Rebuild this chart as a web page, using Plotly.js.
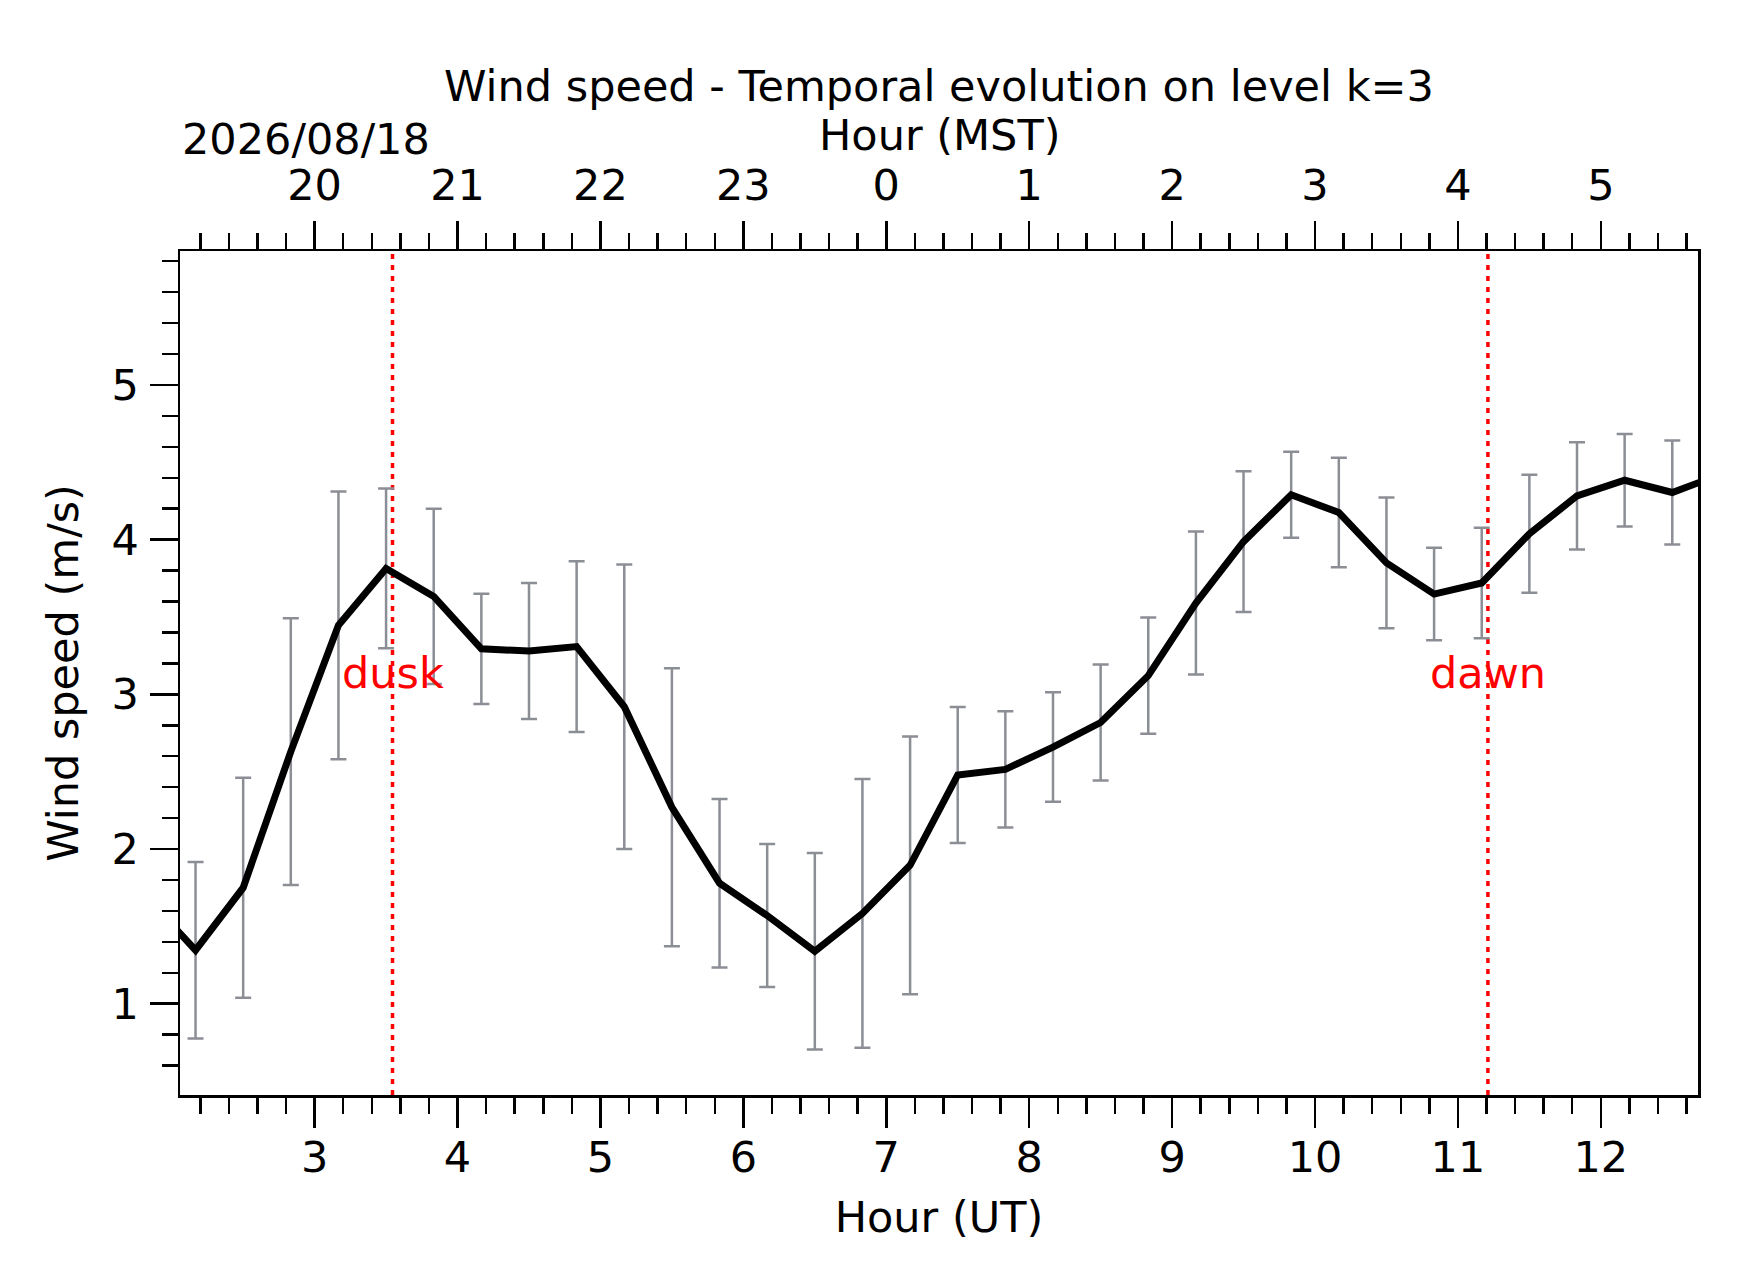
<!DOCTYPE html>
<html>
<head>
<meta charset="utf-8">
<script src="https://cdn.plot.ly/plotly-3.0.1.min.js"></script>
<style>
  html, body { margin: 0; padding: 0; background: #fff; }
  #chart { width: 1742px; height: 1282px; }
</style>
</head>
<body>
<div id="chart"></div>
<script>
// Temps UT (h) des échantillons, toutes les 20 min ; les deux extrêmes sortent de la fenêtre
const hoursUT = [1.8333, 2.1667, 2.5, 2.8333, 3.1667, 3.5, 3.8333, 4.1667, 4.5, 4.8333,
                 5.1667, 5.5, 5.8333, 6.1667, 6.5, 6.8333, 7.1667, 7.5, 7.8333, 8.1667,
                 8.5, 8.8333, 9.1667, 9.5, 9.8333, 10.1667, 10.5, 10.8333, 11.1667, 11.5,
                 11.8333, 12.1667, 12.5, 12.8333]
// vitesse moyenne (m/s) et écart-type
const meanSpeed = [1.68, 1.346, 1.750, 2.630, 3.446, 3.814, 3.633, 3.294, 3.280, 3.309,
                   2.920, 2.270, 1.779, 1.570, 1.339, 1.584, 1.895, 2.479, 2.515, 2.659,
                   2.818, 3.121, 3.590, 3.987, 4.290, 4.175, 3.850, 3.648, 3.720, 4.038,
                   4.283, 4.384, 4.305, 4.42]
const stdSpeed = [0.60, 0.570, 0.711, 0.862, 0.866, 0.516, 0.566, 0.357, 0.440, 0.552,
                  0.920, 0.898, 0.545, 0.462, 0.635, 0.869, 0.833, 0.440, 0.375, 0.354,
                  0.375, 0.375, 0.462, 0.455, 0.278, 0.354, 0.422, 0.299, 0.357, 0.382,
                  0.346, 0.299, 0.336, 0.33]

const utTicks = [3, 4, 5, 6, 7, 8, 9, 10, 11, 12]
const mstLabels = ["20", "21", "22", "23", "0", "1", "2", "3", "4", "5"]
const speedTicks = [1, 2, 3, 4, 5]

const duskHour = 3.545
const dawnHour = 11.21
const dayDate = "2026/08/18"

const FONT = "'DejaVu Sans', 'Liberation Sans', sans-serif"
const TXT = 43
const AXW = 2.5

// réglages communs aux trois axes (ticks extérieurs, mineurs tous les 0.2)
function axisStyle() {
  return {
    showgrid: false,
    zeroline: false,
    showline: true,
    linecolor: "#000",
    linewidth: AXW,
    ticks: "outside",
    ticklen: 29,
    tickwidth: AXW,
    tickcolor: "#000",
    tickfont: { family: FONT, size: TXT, color: "#000" },
    minor: { tick0: 0, dtick: 0.2, ticks: "outside", ticklen: 16, tickwidth: AXW, tickcolor: "#000" }
  }
}

const traces = [
  {
    x: hoursUT,
    y: meanSpeed,
    type: "scatter",
    mode: "lines",
    line: { color: "#000", width: 7 },
    error_y: {
      type: "data",
      array: stdSpeed,
      visible: true,
      color: "#8c8e96",
      thickness: 2.5,
      width: 8
    },
    showlegend: false,
    hoverinfo: "x+y"
  },
  // trace vide pour que l'axe du haut (MST) soit bien construit
  {
    x: utTicks,
    y: utTicks.map(() => null),
    xaxis: "x2",
    type: "scatter",
    mode: "lines",
    showlegend: false,
    hoverinfo: "skip"
  }
]

const xRange = [2.058, 12.68]

const layout = {
  width: 1742,
  height: 1282,
  paper_bgcolor: "#fff",
  plot_bgcolor: "#fff",
  font: { family: FONT, size: TXT, color: "#000" },
  margin: { l: 180, r: 44, t: 251, b: 187, pad: 0 },
  showlegend: false,
  title: {
    text: "Wind speed - Temporal evolution on level k=3",
    font: { family: FONT, size: TXT, color: "#000" },
    xref: "paper", x: 0.5, xanchor: "center",
    yref: "container", y: 1 - 86 / 1282, yanchor: "middle"
  },
  xaxis: {
    ...axisStyle(),
    range: xRange,
    tickmode: "array",
    tickvals: utTicks,
    ticktext: utTicks.map(String),
    ticklen: 30,
    ticklabelstandoff: -7,
    title: { text: "Hour (UT)", font: { family: FONT, size: TXT }, standoff: 21 }
  },
  xaxis2: {
    ...axisStyle(),
    overlaying: "x",
    side: "top",
    anchor: "y",
    range: xRange,
    tickmode: "array",
    tickvals: utTicks,
    ticktext: mstLabels,
    ticklen: 28,
    ticklabelstandoff: 3
  },
  yaxis: {
    ...axisStyle(),
    range: [0.41, 5.866],
    tickmode: "array",
    tickvals: speedTicks,
    ticktext: speedTicks.map(String),
    ticklen: 28,
    mirror: true,
    ticklabelstandoff: 2,
    title: { text: "Wind speed (m/s)", font: { family: FONT, size: TXT }, standoff: 20 }
  },
  shapes: [duskHour, dawnHour].map((h) => ({
    type: "line",
    xref: "x", x0: h, x1: h,
    yref: "paper", y0: 0, y1: 1,
    layer: "below",
    line: { color: "#ff0000", width: 3.5, dash: "5px,6px" }
  })),
  annotations: [
    {
      text: "dusk", x: duskHour, y: 3.14, xref: "x", yref: "y",
      showarrow: false, xanchor: "center", yanchor: "middle",
      font: { family: FONT, size: TXT, color: "#ff0000" }
    },
    {
      text: "dawn", x: dawnHour, y: 3.14, xref: "x", yref: "y",
      showarrow: false, xanchor: "center", yanchor: "middle",
      font: { family: FONT, size: TXT, color: "#ff0000" }
    },
    {
      text: dayDate, xref: "paper", x: 0, xanchor: "left",
      yref: "paper", y: 1 + (251 - 139) / 844, yanchor: "middle",
      showarrow: false,
      font: { family: FONT, size: TXT, color: "#000" }
    },
    // titre de l'axe du haut, placé à la main (le standoff ne descend pas assez)
    {
      text: "Hour (MST)", xref: "paper", x: 0.5, xanchor: "center",
      yref: "paper", y: 1 + (251 - 135) / 844, yanchor: "middle",
      showarrow: false,
      font: { family: FONT, size: TXT, color: "#000" }
    }
  ]
}

Plotly.newPlot("chart", traces, layout, { displayModeBar: false, staticPlot: true })
</script>
</body>
</html>
